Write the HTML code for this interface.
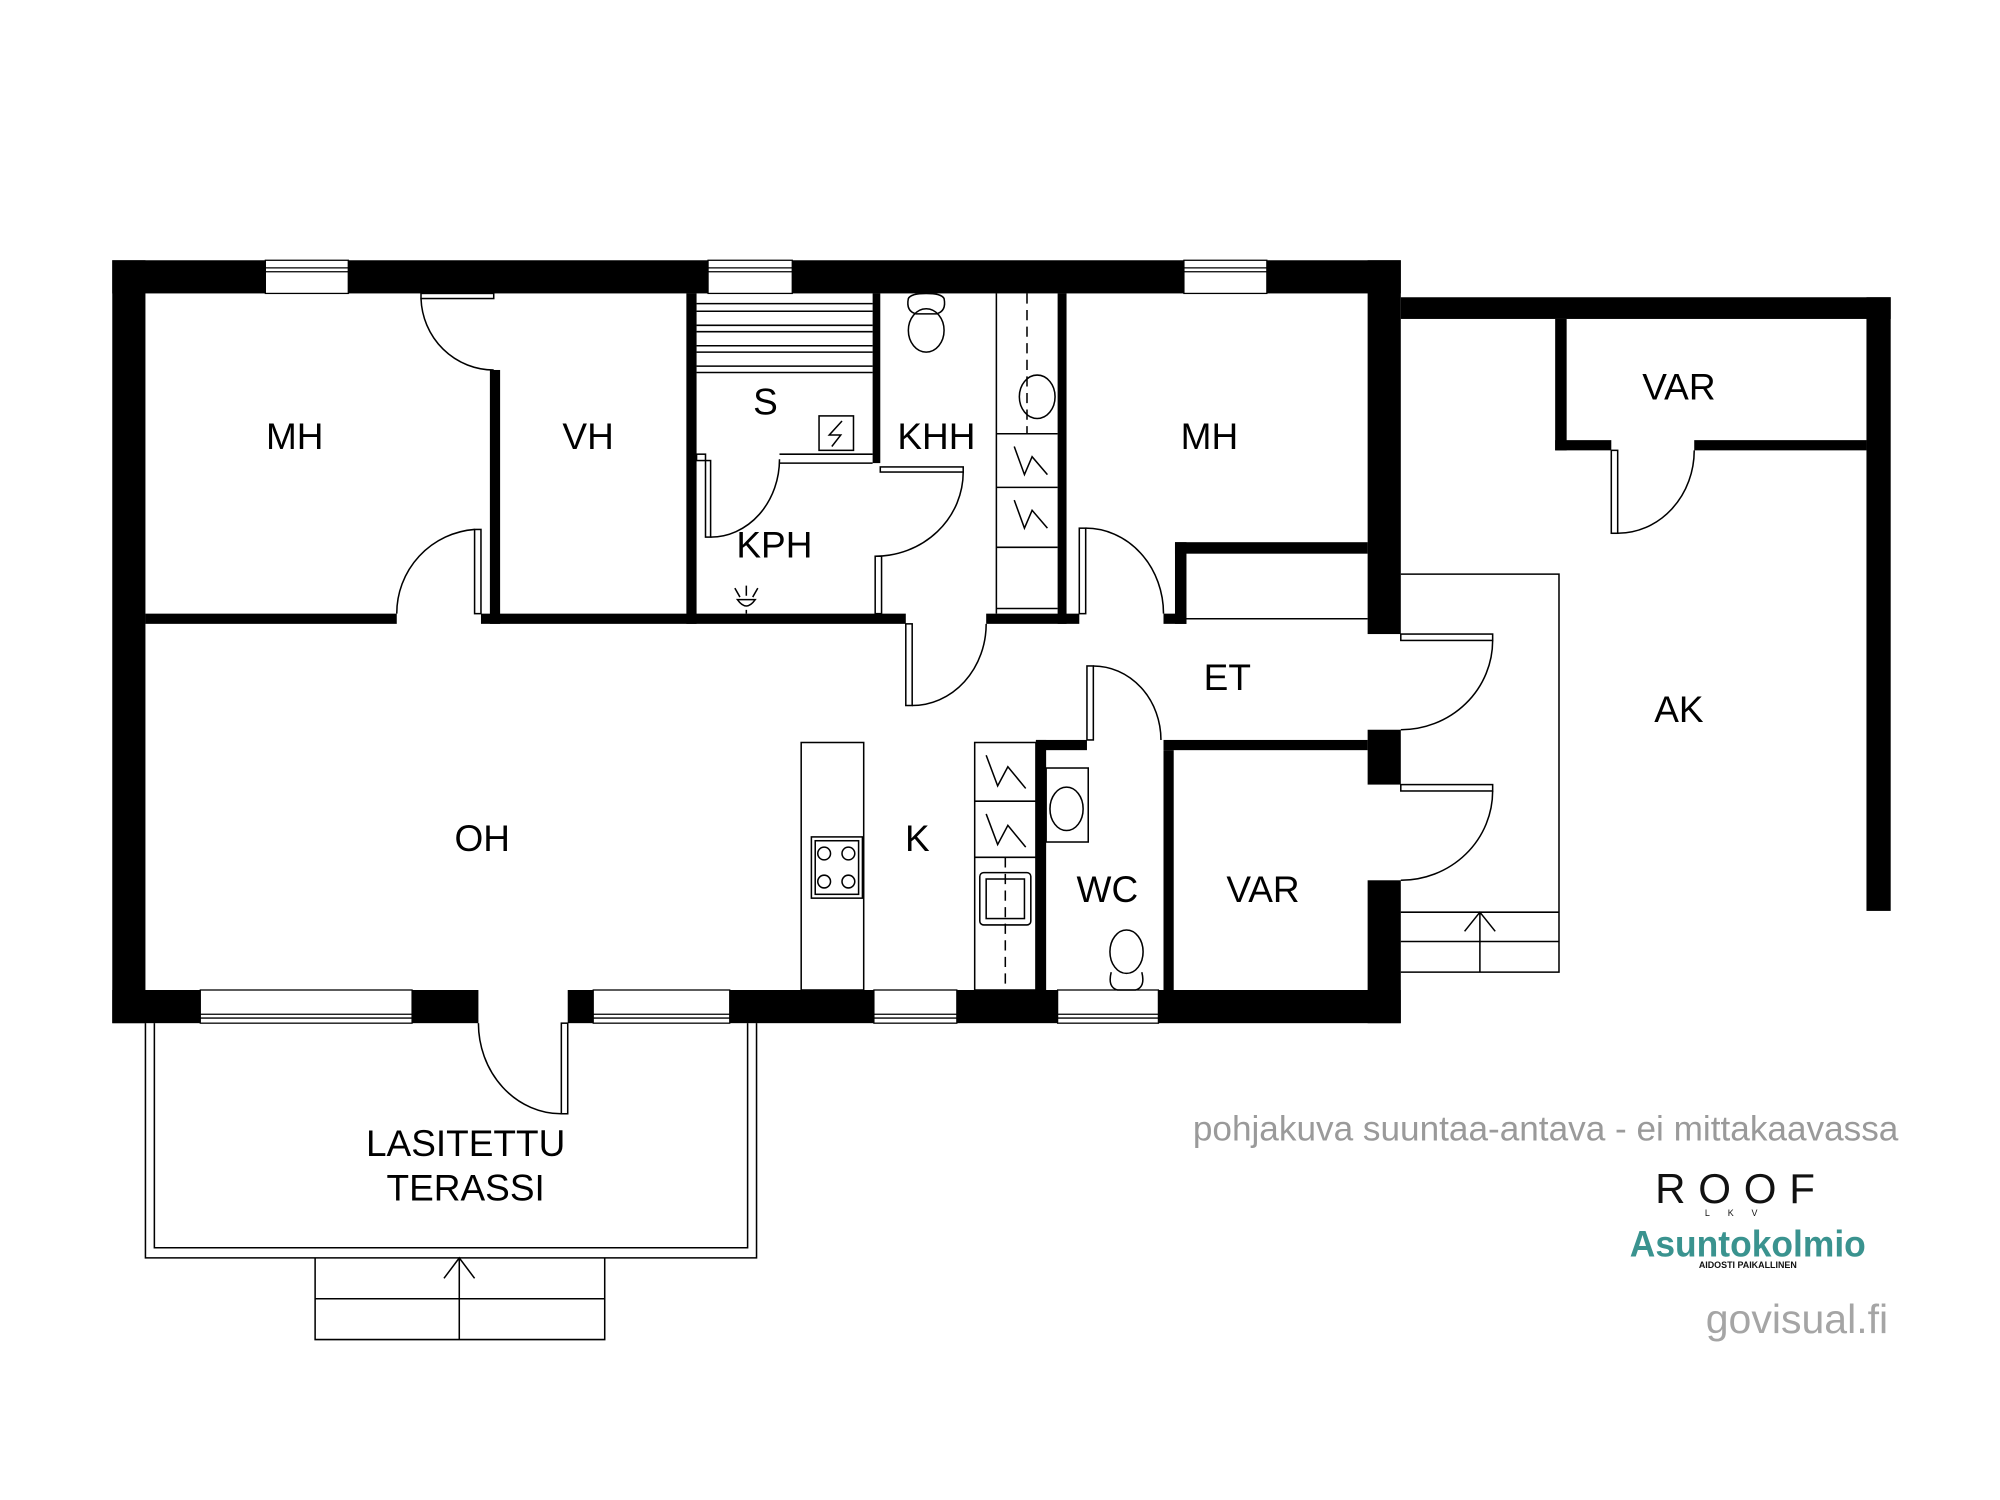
<!DOCTYPE html>
<html><head><meta charset="utf-8"><style>
html,body{margin:0;padding:0;background:#fff;width:2000px;height:1500px;overflow:hidden}
svg{display:block}
text{font-family:"Liberation Sans",sans-serif}
</style></head><body>
<svg width="2000" height="1500" viewBox="0 0 1552 1164" xmlns="http://www.w3.org/2000/svg">
<g transform="scale(0.99)">
<g fill="#000">
<rect x="88" y="204" width="1010" height="26"/>
<rect x="88" y="204" width="26" height="598"/>
<rect x="88" y="776" width="287" height="26"/>
<rect x="445" y="776" width="653" height="26"/>
<rect x="1072" y="204" width="26" height="293"/>
<rect x="1072" y="572" width="26" height="43"/>
<rect x="1072" y="690" width="26" height="112"/>
<rect x="114" y="481" width="197" height="8"/>
<rect x="377" y="481" width="333" height="8"/>
<rect x="773" y="481" width="73" height="8"/>
<rect x="912" y="481" width="18" height="8"/>
<rect x="384" y="290" width="8" height="199"/>
<rect x="538" y="230" width="8" height="259"/>
<rect x="684" y="230" width="6" height="133"/>
<rect x="829" y="230" width="7" height="259"/>
<rect x="921" y="425" width="9" height="64"/>
<rect x="921" y="425" width="151" height="9"/>
<rect x="912" y="580" width="160" height="8"/>
<rect x="812" y="580" width="40" height="8"/>
<rect x="812" y="580" width="8" height="196"/>
<rect x="912" y="588" width="8" height="188"/>
<rect x="1098" y="233" width="384" height="17"/>
<rect x="1463" y="233" width="19" height="481"/>
<rect x="1219" y="250" width="9" height="103"/>
<rect x="1219" y="345" width="44" height="8"/>
<rect x="1328" y="345" width="135" height="8"/>
</g>
<g fill="#fff" stroke="#000" stroke-width="1">
<rect x="208" y="204" width="65" height="26"/><rect x="555" y="204" width="66" height="26"/><rect x="928" y="204" width="65" height="26"/>
<rect x="157" y="776" width="166" height="26"/><rect x="465" y="776" width="107" height="26"/><rect x="685" y="776" width="65" height="26"/><rect x="829" y="776" width="79" height="26"/>
</g>
<g stroke="#000" stroke-width="1" fill="none">
<path d="M208 210H273M208 213H273M555 210H621M555 213H621M928 210H993M928 213H993"/>
<path d="M157 795H323M157 798H323M465 795H572M465 798H572M685 795H750M685 798H750M829 795H908M829 798H908"/>
</g>
<g stroke="#000" stroke-width="1.2" fill="none">
<rect x="330" y="230" width="57" height="4" fill="#fff"/>
<path d="M330 234 A57 58 0 0 0 387 290"/>
<rect x="372" y="415" width="5" height="66" fill="#fff"/>
<path d="M311 481 A66 66 0 0 1 372 415"/>
<path d="M546 238H684M546 244H684M546 255H684M546 260H684M546 271H684M546 276H684M546 287H684M546 292H684"/>
<rect x="642" y="326" width="27" height="27"/>
<path d="M660 330L650 341H659L652 350" />
<path d="M611 356H684M611 363H684"/>
<rect x="546" y="356" width="7" height="5" fill="#fff"/>
<rect x="553" y="361" width="4" height="60" fill="#fff"/>
<path d="M557 421 A54 61 0 0 0 611 360"/>
<rect x="690" y="366" width="65" height="4" fill="#fff"/>
<path d="M755 370 A69 66 0 0 1 686 436"/>
<rect x="686" y="436" width="5" height="45" fill="#fff"/>
<path d="M578 470 Q585 480 592 470 Z M585 467V459M580 468L576 461M590 468L594 461M585 478V481"/>
<path d="M712 234 Q710 244 718 246 H734 Q742 244 740 234 Q738 230 726 230 Q714 230 712 234Z"/>
<ellipse cx="726" cy="259" rx="14" ry="17"/>
<path d="M781 230V481M781 340H829M781 382H829M781 429H829M781 477H829"/>
<path d="M805 230V340" stroke-dasharray="8 5"/>
<ellipse cx="813" cy="311" rx="14" ry="17"/>
<path d="M795 350L803 372L809 358L821 372M795 392L803 414L809 400L821 414"/>
<rect x="710" y="489" width="5" height="64" fill="#fff"/>
<path d="M715 553 A58 64 0 0 0 773 489"/>
<rect x="846" y="414" width="5" height="67" fill="#fff"/>
<path d="M851 414 A61 67 0 0 1 912 481"/>
<path d="M930 485H1072"/>
<rect x="852" y="522" width="5" height="58" fill="#fff"/>
<path d="M857 522 A53 58 0 0 1 910 580"/>
<rect x="1098" y="497" width="72" height="5" fill="#fff"/>
<path d="M1170 502 A72 70 0 0 1 1098 572"/>
<rect x="1098" y="615" width="72" height="5" fill="#fff"/>
<path d="M1170 620 A72 70 0 0 1 1098 690"/>
<path d="M1098 450H1222V762H1098M1098 715H1222M1098 738H1222M1160 715V762M1148 730L1160 715L1172 730"/>
<rect x="1263" y="353" width="5" height="65" fill="#fff"/>
<path d="M1268 418 A60 65 0 0 0 1328 353"/>
<rect x="628" y="582" width="49" height="194"/>
<rect x="636" y="656" width="40" height="48"/>
<rect x="639" y="659" width="34" height="42"/>
<circle cx="646" cy="669" r="5"/><circle cx="665" cy="669" r="5"/><circle cx="646" cy="691" r="5"/><circle cx="665" cy="691" r="5"/>
<rect x="764" y="582" width="48" height="194"/>
<path d="M764 628H812M764 672H812"/>
<path d="M788 672V776" stroke-dasharray="8 5"/>
<path d="M773 592L782 616L790 601L804 618M773 638L782 662L790 647L804 664"/>
<rect x="768" y="684" width="40" height="41" rx="3"/>
<rect x="773" y="689" width="30" height="31"/>
<rect x="820" y="602" width="33" height="58"/>
<ellipse cx="836" cy="634" rx="13" ry="17"/>
<ellipse cx="883" cy="746" rx="13" ry="17"/>
<path d="M871 762 Q868 774 876 776 H890 Q898 774 895 762"/>
<path d="M114 802V986H593V802M121 802V978H586V802"/>
<rect x="440" y="802" width="5" height="71" fill="#fff"/>
<path d="M440 873 A65 71 0 0 1 375 802"/>
<path d="M247 986V1050H474V986M247 1018H474M360 986V1050M348 1002L360 986L372 1002"/>
</g>
<g font-size="29" text-anchor="middle" fill="#000">
<text x="231" y="352">MH</text>
<text x="461" y="352">VH</text>
<text x="600" y="325">S</text>
<text x="734" y="352">KHH</text>
<text x="607" y="437">KPH</text>
<text x="948" y="352">MH</text>
<text x="1316" y="313">VAR</text>
<text x="962" y="541">ET</text>
<text x="1316" y="566">AK</text>
<text x="378" y="667">OH</text>
<text x="719" y="667">K</text>
<text x="868" y="707">WC</text>
<text x="990" y="707">VAR</text>
<text x="365" y="906">LASITETTU</text>
<text x="365" y="941">TERASSI</text>
</g>
<text x="935" y="894" font-size="27.4" fill="#9a9a9a" textLength="553" lengthAdjust="spacingAndGlyphs">pohjakuva suuntaa-antava - ei mittakaavassa</text>
<text x="1365" y="943" font-size="33" text-anchor="middle" letter-spacing="10" fill="#111">ROOF</text>
<text x="1364" y="953" font-size="7" text-anchor="middle" letter-spacing="14" fill="#111">LKV</text>
<text x="1370" y="985" font-size="29" text-anchor="middle" font-weight="bold" fill="#3a938f" textLength="185" lengthAdjust="spacingAndGlyphs">Asuntokolmio</text>
<text x="1370" y="994" font-size="7" text-anchor="middle" font-weight="bold" fill="#111">AIDOSTI PAIKALLINEN</text>
<text x="1337" y="1045" font-size="32" fill="#a5a5a5" textLength="143" lengthAdjust="spacingAndGlyphs">govisual.fi</text>
</g>
</svg>
</body></html>
